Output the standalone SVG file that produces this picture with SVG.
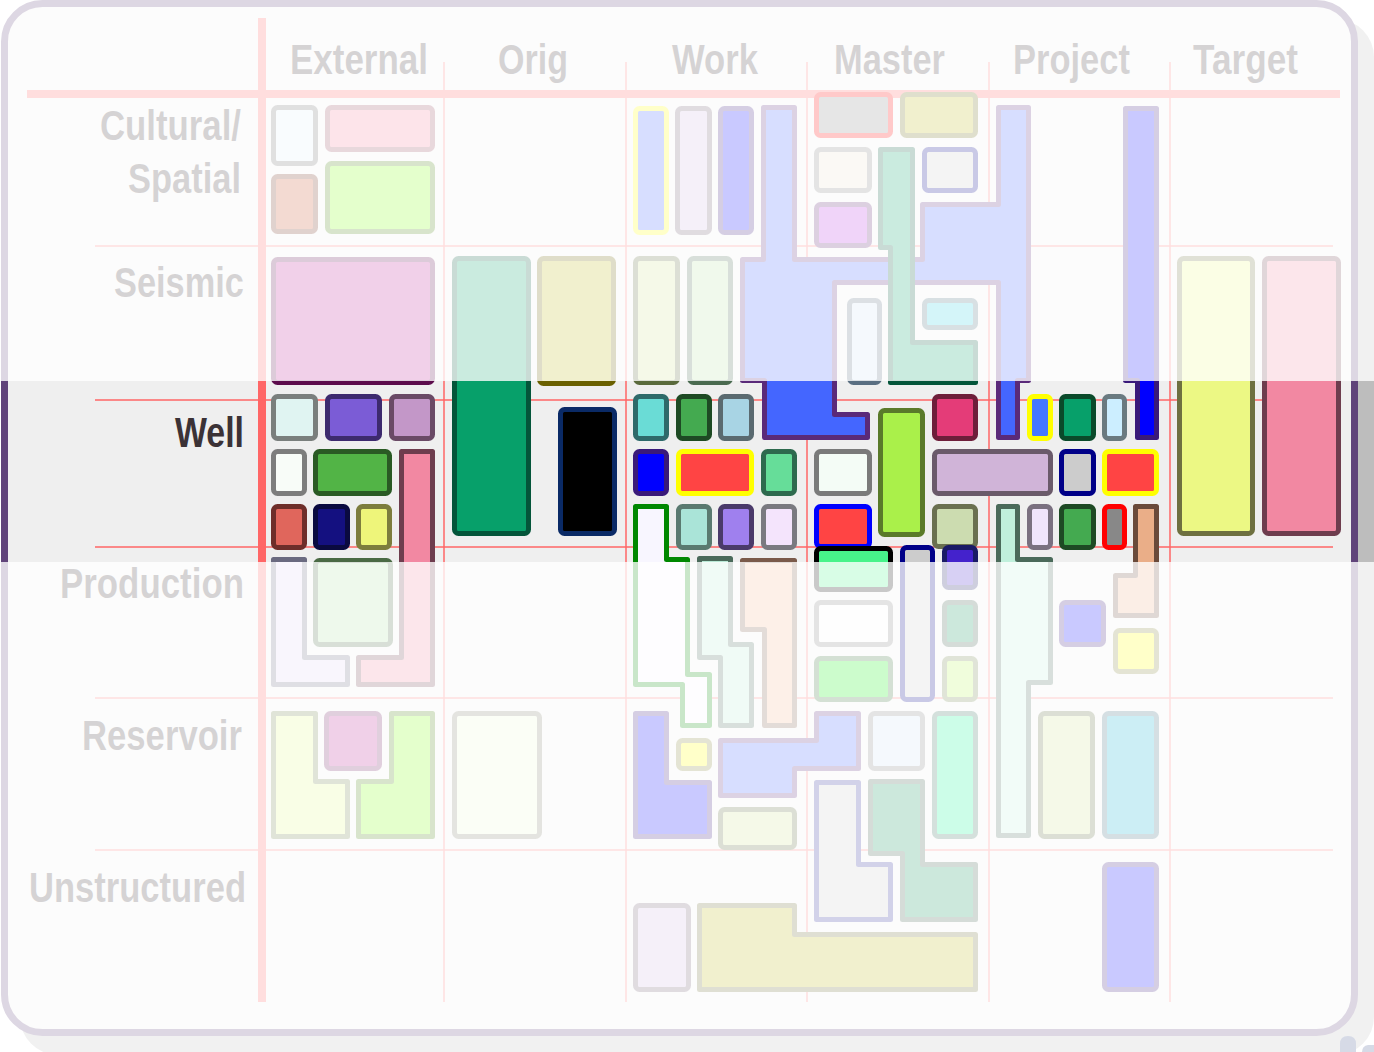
<svg xmlns="http://www.w3.org/2000/svg" width="1374" height="1052" viewBox="0 0 1374 1052">
<style>
.n{stroke-width:5;stroke-linejoin:round}
.lbl{font-family:"Liberation Sans Narrow","Liberation Sans",Arial,sans-serif;font-weight:bold;font-size:42px;fill:#3b3236}
.thin{stroke:#ff6666;stroke-width:1.5;fill:none}
.thick{stroke:#ff6666;stroke-width:8;fill:none}
.fade{fill:#ffffff;opacity:0.79}
</style>
<rect id="shadow" x="20" y="19" width="1354" height="1036" rx="38" fill="#bdbdbd"/>
<rect id="panel" x="4.5" y="3.5" width="1350" height="1029" rx="38" fill="#efefef" stroke="#60437a" stroke-width="7"/>
<g id="grid">
<line class="thick" x1="262" y1="18" x2="262" y2="1002"/>
<line class="thick" x1="27" y1="94" x2="1340" y2="94"/>
<line class="thin" x1="444" y1="62" x2="444" y2="1002"/>
<line class="thin" x1="626" y1="62" x2="626" y2="1002"/>
<line class="thin" x1="807" y1="62" x2="807" y2="1002"/>
<line class="thin" x1="989" y1="62" x2="989" y2="1002"/>
<line class="thin" x1="1170" y1="62" x2="1170" y2="1002"/>
<line class="thin" x1="95" y1="246" x2="1333" y2="246"/>
<line class="thin" x1="95" y1="400" x2="1333" y2="400"/>
<line class="thin" x1="95" y1="547" x2="1333" y2="547"/>
<line class="thin" x1="95" y1="698" x2="1333" y2="698"/>
<line class="thin" x1="95" y1="850" x2="1333" y2="850"/>
</g>
<g id="headers">
<text class="lbl" x="290" y="74" textLength="138" lengthAdjust="spacingAndGlyphs">External</text>
<text class="lbl" x="498" y="74" textLength="70" lengthAdjust="spacingAndGlyphs">Orig</text>
<text class="lbl" x="672" y="74" textLength="86" lengthAdjust="spacingAndGlyphs">Work</text>
<text class="lbl" x="834" y="74" textLength="111" lengthAdjust="spacingAndGlyphs">Master</text>
<text class="lbl" x="1013" y="74" textLength="117" lengthAdjust="spacingAndGlyphs">Project</text>
<text class="lbl" x="1193" y="74" textLength="105" lengthAdjust="spacingAndGlyphs">Target</text>
</g>
<g id="rowlabels">
<text class="lbl" x="100" y="140" textLength="141" lengthAdjust="spacingAndGlyphs">Cultural/</text>
<text class="lbl" x="128" y="193" textLength="113" lengthAdjust="spacingAndGlyphs">Spatial</text>
<text class="lbl" x="114" y="297" textLength="130" lengthAdjust="spacingAndGlyphs">Seismic</text>
<text class="lbl" x="175" y="447" textLength="69" lengthAdjust="spacingAndGlyphs">Well</text>
<text class="lbl" x="60" y="598" textLength="184" lengthAdjust="spacingAndGlyphs">Production</text>
<text class="lbl" x="82" y="750" textLength="160" lengthAdjust="spacingAndGlyphs">Reservoir</text>
<text class="lbl" x="29" y="902" textLength="217" lengthAdjust="spacingAndGlyphs">Unstructured</text>
</g>
<g id="connectors"></g>
<g id="nodes">
<!-- External -->
<g id="ext-cult-1"><rect class="n" x="273.5" y="107.5" width="42" height="56" rx="4" fill="#e0f0f8" stroke="#6e6e6e"/></g>
<g id="ext-cult-2"><rect class="n" x="327.5" y="107.5" width="105" height="42" rx="4" fill="#f3819d" stroke="#94475a"/></g>
<g id="ext-cult-3"><rect class="n" x="273.5" y="176.5" width="42" height="55" rx="4" fill="#c8502a" stroke="#6e2a1a"/></g>
<g id="ext-cult-4"><rect class="n" x="327.5" y="163.5" width="105" height="68" rx="4" fill="#80ff10" stroke="#47810e"/></g>
<g id="ext-seis-1"><rect class="n" x="273.5" y="259.5" width="159" height="123" rx="4" fill="#bb2595" stroke="#5c0c4c"/></g>
<g id="ext-well-1"><rect class="n" x="273.5" y="396.5" width="42" height="42" rx="4" fill="#e0f4f2" stroke="#7a7f7d"/></g>
<g id="ext-well-2"><rect class="n" x="327.5" y="396.5" width="52" height="42" rx="4" fill="#7b5cd6" stroke="#3d2a6e"/></g>
<g id="ext-well-3"><rect class="n" x="391.5" y="396.5" width="41" height="42" rx="4" fill="#c397c8" stroke="#6a4a66"/></g>
<g id="ext-well-4"><rect class="n" x="273.5" y="451.5" width="31" height="42" rx="4" fill="#f8fcf8" stroke="#7d7d7d"/></g>
<g id="ext-well-5"><rect class="n" x="315.5" y="451.5" width="74" height="42" rx="4" fill="#52b446" stroke="#2a5a24"/></g>
<g id="ext-well-6"><path class="n" d="M401.5,451.5 H432.5 V684.5 H358.5 V657.5 H401.5 Z" fill="#f288a2" stroke="#6e3d4e"/></g>
<g id="ext-well-7"><rect class="n" x="273.5" y="506.5" width="31" height="41" rx="4" fill="#e0665c" stroke="#6e2e2a"/></g>
<g id="ext-well-8"><rect class="n" x="315.5" y="506.5" width="32" height="41" rx="4" fill="#141080" stroke="#0a0a40"/></g>
<g id="ext-well-9"><rect class="n" x="358.5" y="506.5" width="31" height="41" rx="4" fill="#eef57a" stroke="#7d7d3d"/></g>
<g id="ext-prod-1"><path class="n" d="M273.5,559.5 H304.5 V657.5 H347.5 V684.5 H273.5 Z" fill="#e0d6f3" stroke="#6a6a80"/></g>
<g id="ext-prod-2"><rect class="n" x="315.5" y="560.5" width="75" height="84" rx="4" fill="#b0e0a7" stroke="#4a6a44"/></g>
<g id="ext-res-1"><path class="n" d="M273.5,713.5 H315.5 V781.5 H347.5 V836.5 H273.5 Z" fill="#e0f88a" stroke="#6e8147"/></g>
<g id="ext-res-2"><rect class="n" x="326.5" y="713.5" width="53" height="55" rx="4" fill="#ba2194" stroke="#6e1e5e"/></g>
<g id="ext-res-3"><path class="n" d="M391.5,713.5 H432.5 V836.5 H358.5 V781.5 H391.5 Z" fill="#80ff10" stroke="#47810e"/></g>
<!-- Orig -->
<g id="orig-seis-1"><rect class="n" x="454.5" y="258.5" width="74" height="275" rx="4" fill="#07a06a" stroke="#04553a"/></g>
<g id="orig-seis-2"><rect class="n" x="539.5" y="258.5" width="74" height="125" rx="4" fill="#bcb818" stroke="#6a6000"/></g>
<g id="orig-well-1"><rect class="n" x="560.5" y="409.5" width="54" height="124" rx="4" fill="#000000" stroke="#0a2a66"/></g>
<g id="orig-res-1"><rect class="n" x="454.5" y="713.5" width="85" height="123" rx="4" fill="#e9f8d6" stroke="#81816e"/></g>
<!-- Work / Master / Project big shape -->
<g id="big-lavender"><path class="n" d="M763.5,107.5 H794.5 V259.5 H922.5 V204.5 H998.5 V107.5 H1028.5 V380.5 H1017.5 V437.5 H998.5 V282.5 H834.5 V414.5 H867.5 V437.5 H764.5 V380.5 H742.5 V259.5 H763.5 Z" fill="#4466ff" stroke="#5a2a7a"/></g>
<g id="work-cult-1"><rect class="n" x="635.5" y="108.5" width="31" height="124" rx="4" fill="#4466ff" stroke="#ffff00"/></g>
<g id="work-cult-2"><rect class="n" x="677.5" y="108.5" width="32" height="124" rx="4" fill="#cdbae0" stroke="#6e5a6e"/></g>
<g id="work-cult-3"><rect class="n" x="720.5" y="108.5" width="31" height="124" rx="4" fill="#0000ff" stroke="#3a1a7a"/></g>
<g id="work-seis-1"><rect class="n" x="635.5" y="258.5" width="42" height="124" rx="4" fill="#cde094" stroke="#5a6a3c"/></g>
<g id="work-seis-2"><rect class="n" x="689.5" y="258.5" width="41" height="124" rx="4" fill="#bae0a7" stroke="#4a6a50"/></g>
<g id="work-well-1"><rect class="n" x="635.5" y="396.5" width="31" height="42" rx="4" fill="#6adcd6" stroke="#2e6a6a"/></g>
<g id="work-well-2"><rect class="n" x="678.5" y="396.5" width="31" height="42" rx="4" fill="#44aa50" stroke="#1e4a24"/></g>
<g id="work-well-3"><rect class="n" x="720.5" y="396.5" width="31" height="42" rx="4" fill="#a8d4e4" stroke="#5a6a70"/></g>
<g id="work-well-4"><rect class="n" x="635.5" y="451.5" width="31" height="42" rx="4" fill="#0000ff" stroke="#3a1a7a"/></g>
<g id="work-well-5"><rect class="n" x="678.5" y="451.5" width="73" height="42" rx="4" fill="#ff4444" stroke="#ffff00"/></g>
<g id="work-well-6"><rect class="n" x="763.5" y="451.5" width="31" height="42" rx="4" fill="#66dd99" stroke="#2e6a4e"/></g>
<g id="work-well-7"><path class="n" d="M635.5,506.5 H666.5 V559.5 H687.5 V674.5 H709.5 V725.5 H682.5 V684.5 H635.5 Z" fill="#f8f6ff" stroke="#008800"/></g>
<g id="work-well-8"><rect class="n" x="678.5" y="506.5" width="31" height="41" rx="4" fill="#aae4d8" stroke="#5a7a70"/></g>
<g id="work-well-9"><rect class="n" x="720.5" y="506.5" width="31" height="41" rx="4" fill="#9f80ee" stroke="#4a3a6a"/></g>
<g id="work-well-10"><rect class="n" x="763.5" y="506.5" width="31" height="41" rx="4" fill="#f4e4fc" stroke="#7a7a80"/></g>
<g id="work-prod-1"><path class="n" d="M699.5,558.5 H730.5 V644.5 H751.5 V725.5 H720.5 V657.5 H699.5 Z" fill="#bae9d6" stroke="#4a6a5a"/></g>
<g id="work-prod-2"><path class="n" d="M742.5,560.5 H794.5 V725.5 H764.5 V629.5 H742.5 Z" fill="#f3ba94" stroke="#7a5a4a"/></g>
<g id="work-res-1"><path class="n" d="M635.5,713.5 H666.5 V782.5 H709.5 V836.5 H635.5 Z" fill="#0000ff" stroke="#3a1a7a"/></g>
<g id="work-res-2"><rect class="n" x="678.5" y="740.5" width="31" height="28" rx="4" fill="#ffff00" stroke="#808034"/></g>
<g id="work-res-3"><path class="n" d="M720.5,740.5 H816.5 V713.5 H858.5 V768.5 H794.5 V795.5 H720.5 Z" fill="#4466ff" stroke="#5a2a7a"/></g>
<g id="work-res-4"><rect class="n" x="720.5" y="809.5" width="74" height="38" rx="4" fill="#cde094" stroke="#5a6a3c"/></g>
<g id="work-uns-1"><rect class="n" x="635.5" y="905.5" width="53" height="84" rx="4" fill="#cdbae0" stroke="#6e5a6e"/></g>
<g id="work-uns-2"><path class="n" d="M699.5,905.5 H794.5 V934.5 H975.5 V989.5 H699.5 Z" fill="#bcb818" stroke="#6a6a30"/></g>
<!-- Master -->
<g id="mast-cult-1"><rect class="n" x="816.5" y="94.5" width="74" height="41" rx="4" fill="#888888" stroke="#ff0000"/></g>
<g id="mast-cult-2"><rect class="n" x="902.5" y="94.5" width="73" height="41" rx="4" fill="#bcb818" stroke="#6a6a14"/></g>
<g id="mast-cult-3"><rect class="n" x="816.5" y="149.5" width="53" height="41" rx="4" fill="#e9e0cd" stroke="#808080"/></g>
<g id="mast-cult-4"><rect class="n" x="816.5" y="204.5" width="53" height="41" rx="4" fill="#ba34e0" stroke="#5a216e"/></g>
<g id="mast-cult-5"><path class="n" d="M880.5,149.5 H912.5 V342.5 H975.5 V382.5 H890.5 V247.5 H880.5 Z" fill="#07a06a" stroke="#04553a"/></g>
<g id="mast-cult-6"><rect class="n" x="924.5" y="149.5" width="51" height="41" rx="4" fill="#cccccc" stroke="#000088"/></g>
<g id="mast-seis-1"><rect class="n" x="849.5" y="300.5" width="30" height="82" rx="4" fill="#cde0f3" stroke="#5a6e81"/></g>
<g id="mast-seis-2"><rect class="n" x="924.5" y="300.5" width="51" height="27" rx="4" fill="#34cde0" stroke="#4a6e7a"/></g>
<g id="mast-well-1"><rect class="n" x="880.5" y="410.5" width="42" height="124" rx="4" fill="#aaf04a" stroke="#5a7a2a"/></g>
<g id="mast-well-2"><rect class="n" x="934.5" y="396.5" width="41" height="42" rx="4" fill="#e43c78" stroke="#6e1e3a"/></g>
<g id="mast-well-3"><rect class="n" x="816.5" y="451.5" width="53" height="42" rx="4" fill="#f4fcf6" stroke="#7a7a7a"/></g>
<g id="mast-well-4"><rect class="n" x="934.5" y="451.5" width="116" height="42" rx="4" fill="#d0b4d8" stroke="#6a5a6a"/></g>
<g id="mast-well-5"><rect class="n" x="816.5" y="506.5" width="53" height="40" rx="4" fill="#ff4444" stroke="#0000ff"/></g>
<g id="mast-well-6"><rect class="n" x="934.5" y="506.5" width="41" height="40" rx="4" fill="#ccdcb0" stroke="#6a7050"/></g>
<g id="mast-prod-1"><rect class="n" x="816.5" y="548.5" width="74" height="41" rx="4" fill="#47f38a" stroke="#000000"/></g>
<g id="mast-prod-2"><rect class="n" x="902.5" y="547.5" width="30" height="152" rx="4" fill="#cccccc" stroke="#000088"/></g>
<g id="mast-prod-3"><rect class="n" x="944.5" y="547.5" width="31" height="40" rx="4" fill="#4422cc" stroke="#1a1a66"/></g>
<g id="mast-prod-4"><rect class="n" x="816.5" y="602.5" width="74" height="42" rx="4" fill="#f8f8f8" stroke="#808080"/></g>
<g id="mast-prod-5"><rect class="n" x="816.5" y="658.5" width="74" height="41" rx="4" fill="#10f010" stroke="#346e34"/></g>
<g id="mast-prod-6"><rect class="n" x="944.5" y="602.5" width="31" height="42" rx="4" fill="#0e945a" stroke="#3a5a4a"/></g>
<g id="mast-prod-7"><rect class="n" x="944.5" y="658.5" width="31" height="41" rx="4" fill="#baf35a" stroke="#6e8147"/></g>
<g id="mast-res-1"><rect class="n" x="870.5" y="713.5" width="52" height="55" rx="4" fill="#cde0f3" stroke="#808080"/></g>
<g id="mast-res-2"><rect class="n" x="934.5" y="713.5" width="41" height="123" rx="4" fill="#0ef394" stroke="#346e5a"/></g>
<g id="mast-res-3"><path class="n" d="M816.5,782.5 H858.5 V864.5 H890.5 V919.5 H816.5 Z" fill="#cccccc" stroke="#2a2a99"/></g>
<g id="mast-res-4"><path class="n" d="M870.5,781.5 H922.5 V864.5 H975.5 V919.5 H902.5 V853.5 H870.5 Z" fill="#0e945a" stroke="#3a5a4a"/></g>
<!-- Project -->
<g id="proj-cult-1"><path class="n" d="M1125.5,108.5 H1156.5 V437.5 H1137.5 V380.5 H1125.5 Z" fill="#0000ff" stroke="#3a1a7a"/></g>
<g id="proj-well-1"><rect class="n" x="1029.5" y="396.5" width="21" height="42" rx="4" fill="#4477ff" stroke="#ffff00"/></g>
<g id="proj-well-2"><rect class="n" x="1061.5" y="396.5" width="32" height="42" rx="4" fill="#07a06a" stroke="#0a4a2a"/></g>
<g id="proj-well-3"><rect class="n" x="1104.5" y="396.5" width="20" height="42" rx="4" fill="#cceeff" stroke="#6a7a80"/></g>
<g id="proj-well-4"><rect class="n" x="1061.5" y="451.5" width="32" height="42" rx="4" fill="#cccccc" stroke="#000088"/></g>
<g id="proj-well-5"><rect class="n" x="1104.5" y="451.5" width="52" height="42" rx="4" fill="#ff4444" stroke="#ffff00"/></g>
<g id="proj-well-6"><path class="n" d="M998.5,506.5 H1017.5 V559.5 H1050.5 V682.5 H1028.5 V835.5 H998.5 Z" fill="#c0f0dc" stroke="#4a6a5a"/></g>
<g id="proj-well-7"><rect class="n" x="1029.5" y="506.5" width="21" height="41" rx="4" fill="#f0e4fc" stroke="#7a7080"/></g>
<g id="proj-well-8"><rect class="n" x="1061.5" y="506.5" width="32" height="41" rx="4" fill="#44aa50" stroke="#1e4a24"/></g>
<g id="proj-well-9"><rect class="n" x="1104.5" y="506.5" width="20" height="41" rx="4" fill="#888888" stroke="#ff0000"/></g>
<g id="proj-well-10"><path class="n" d="M1135.5,506.5 H1156.5 V615.5 H1115.5 V575.5 H1135.5 Z" fill="#eaae88" stroke="#6a4a3a"/></g>
<g id="proj-prod-1"><rect class="n" x="1061.5" y="602.5" width="42" height="42" rx="4" fill="#0000ff" stroke="#3a1a7a"/></g>
<g id="proj-prod-2"><rect class="n" x="1115.5" y="630.5" width="41" height="41" rx="4" fill="#ffff00" stroke="#808034"/></g>
<g id="proj-res-1"><rect class="n" x="1040.5" y="713.5" width="52" height="123" rx="4" fill="#cde094" stroke="#5a6a3c"/></g>
<g id="proj-res-2"><rect class="n" x="1104.5" y="713.5" width="52" height="123" rx="4" fill="#0eb0cd" stroke="#3a6a7a"/></g>
<g id="proj-uns-1"><rect class="n" x="1104.5" y="864.5" width="52" height="125" rx="4" fill="#0000ff" stroke="#3a1a7a"/></g>
<!-- Target -->
<g id="targ-seis-1"><rect class="n" x="1179.5" y="258.5" width="73" height="275" rx="4" fill="#ecf884" stroke="#6e7040"/></g>
<g id="targ-seis-2"><rect class="n" x="1264.5" y="258.5" width="74" height="275" rx="4" fill="#f288a2" stroke="#6e3d4e"/></g>
</g>
<g id="corner-mark">
<path d="M1340,1052 V1044 Q1340,1036 1348,1036 Q1356,1036 1356,1044 V1052 Z" fill="#3e518a"/>
<path d="M1362,1052 Q1362,1046 1368,1045 L1374,1045 V1052 Z" fill="#3e518a"/>
</g>
<rect class="fade" x="0" y="0" width="1374" height="381"/>
<rect class="fade" x="0" y="562" width="1374" height="490"/>
</svg>
